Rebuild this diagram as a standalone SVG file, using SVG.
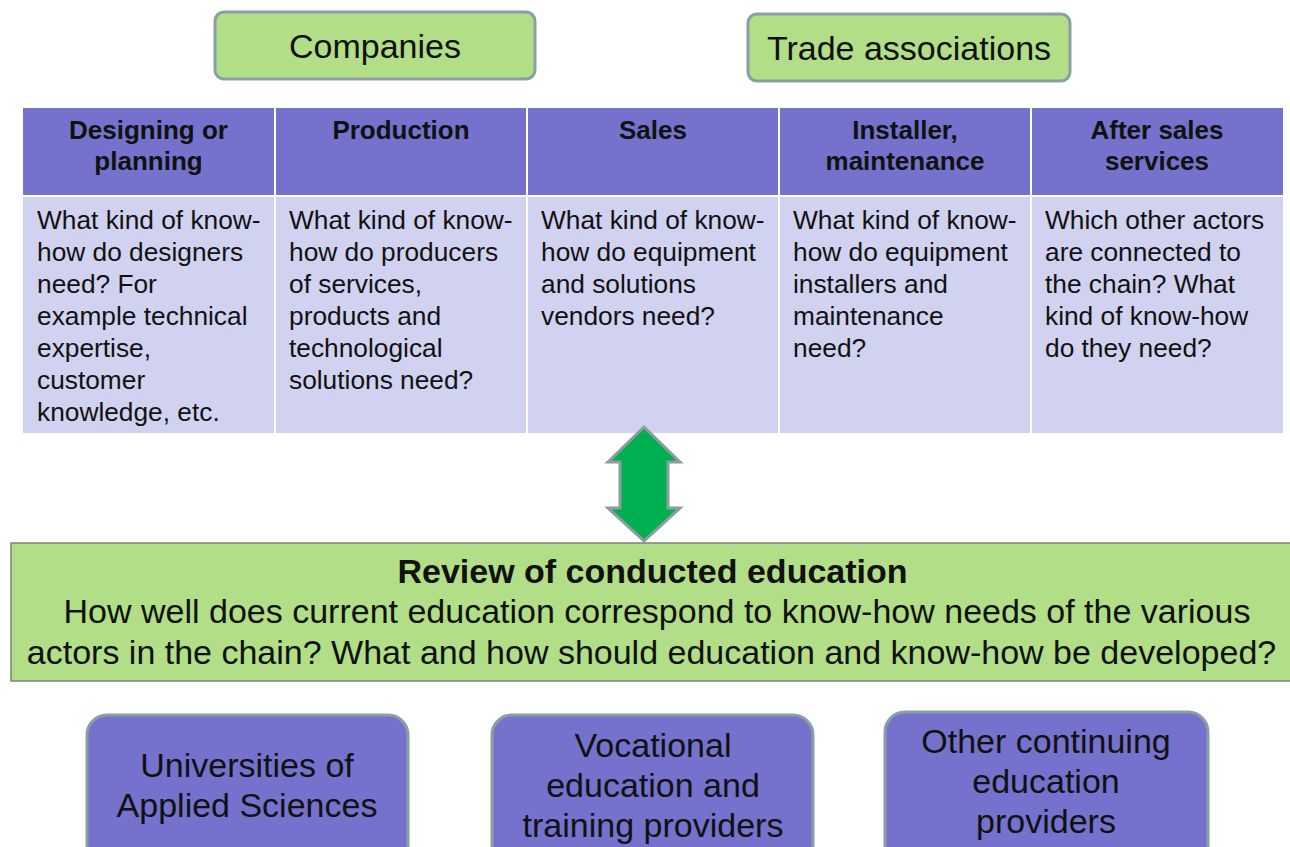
<svg xmlns="http://www.w3.org/2000/svg" width="1290" height="847" viewBox="0 0 1290 847">
<style>
text{font-family:"Liberation Sans",Arial,sans-serif;fill:#111}
.top{fill:#b1de86;stroke:#8a9fa3;stroke-width:3}
.hdr{fill:#7472cc}
.body{fill:#d1d1f0}
.ht{font-size:26px;font-weight:bold;text-anchor:middle}
.bt{font-size:26.3px}
.edu{fill:#7472cc;stroke:#8a9fa3;stroke-width:3}
.et{font-size:34px;text-anchor:middle}
.rev{fill:#b1de86;stroke:#7f7f7f;stroke-width:1.5}
.rt{font-size:34px;text-anchor:middle}
</style>
<rect width="1290" height="847" fill="#fff"/>
<g id="companies">
<rect class="top" x="215" y="12" width="320" height="67" rx="9"/>
<text x="375" y="58" style="font-size:34px;text-anchor:middle">Companies</text>
</g>
<g id="trade-associations">
<rect class="top" x="748" y="14" width="322" height="67" rx="9"/>
<text x="909" y="60" style="font-size:34px;text-anchor:middle">Trade associations</text>
</g>
<g id="table">
<g id="col-designing">
<rect class="hdr" x="23" y="108" width="251" height="87"/>
<rect class="body" x="23" y="197" width="251" height="236"/>
<text class="ht" x="148.5" y="139">Designing or</text>
<text class="ht" x="148.5" y="170">planning</text>
<text class="bt"><tspan x="37" y="229">What kind of know-</tspan><tspan x="37" y="261">how do designers</tspan><tspan x="37" y="293">need? For</tspan><tspan x="37" y="325">example technical</tspan><tspan x="37" y="357">expertise,</tspan><tspan x="37" y="389">customer</tspan><tspan x="37" y="421">knowledge, etc.</tspan></text>
</g>
<g id="col-production">
<rect class="hdr" x="276" y="108" width="250" height="87"/>
<rect class="body" x="276" y="197" width="250" height="236"/>
<text class="ht" x="401" y="139">Production</text>
<text class="bt"><tspan x="289" y="229">What kind of know-</tspan><tspan x="289" y="261">how do producers</tspan><tspan x="289" y="293">of services,</tspan><tspan x="289" y="325">products and</tspan><tspan x="289" y="357">technological</tspan><tspan x="289" y="389">solutions need?</tspan></text>
</g>
<g id="col-sales">
<rect class="hdr" x="528" y="108" width="250" height="87"/>
<rect class="body" x="528" y="197" width="250" height="236"/>
<text class="ht" x="653" y="139">Sales</text>
<text class="bt"><tspan x="541" y="229">What kind of know-</tspan><tspan x="541" y="261">how do equipment</tspan><tspan x="541" y="293">and solutions</tspan><tspan x="541" y="325">vendors need?</tspan></text>
</g>
<g id="col-installer">
<rect class="hdr" x="780" y="108" width="250" height="87"/>
<rect class="body" x="780" y="197" width="250" height="236"/>
<text class="ht" x="905" y="139">Installer,</text>
<text class="ht" x="905" y="170">maintenance</text>
<text class="bt"><tspan x="793" y="229">What kind of know-</tspan><tspan x="793" y="261">how do equipment</tspan><tspan x="793" y="293">installers and</tspan><tspan x="793" y="325">maintenance</tspan><tspan x="793" y="357">need?</tspan></text>
</g>
<g id="col-aftersales">
<rect class="hdr" x="1032" y="108" width="251" height="87"/>
<rect class="body" x="1032" y="197" width="251" height="236"/>
<text class="ht" x="1157" y="139">After sales</text>
<text class="ht" x="1157" y="170">services</text>
<text class="bt"><tspan x="1045" y="229">Which other actors</tspan><tspan x="1045" y="261">are connected to</tspan><tspan x="1045" y="293">the chain? What</tspan><tspan x="1045" y="325">kind of know-how</tspan><tspan x="1045" y="357">do they need?</tspan></text>
</g>
</g>
<g id="connectors">
<polygon points="644,427 680,462 668,462 668,508 680,508 644,541 608,508 620,508 620,462 608,462" fill="#00b050" stroke="#8c9ca0" stroke-width="3" stroke-linejoin="miter"/>
</g>
<g id="review">
<rect class="rev" x="11" y="543" width="1290" height="138"/>
<text class="rt" x="652.5" y="583" style="font-weight:bold">Review of conducted education</text>
<text class="rt" x="657" y="623">How well does current education correspond to know-how needs of the various</text>
<text class="rt" x="651.5" y="664">actors in the chain? What and how should education and know-how be developed?</text>
</g>
<g id="universities">
<rect class="edu" x="87" y="715" width="321" height="160" rx="20"/>
<text class="et" x="247" y="777">Universities of</text>
<text class="et" x="247" y="817">Applied Sciences</text>
</g>
<g id="vocational">
<rect class="edu" x="492" y="715" width="321" height="160" rx="20"/>
<text class="et" x="653" y="757">Vocational</text>
<text class="et" x="653" y="797">education and</text>
<text class="et" x="653" y="837">training providers</text>
</g>
<g id="other-continuing">
<rect class="edu" x="885" y="712" width="323" height="160" rx="20"/>
<text class="et" x="1046" y="753">Other continuing</text>
<text class="et" x="1046" y="793">education</text>
<text class="et" x="1046" y="833">providers</text>
</g>
</svg>
